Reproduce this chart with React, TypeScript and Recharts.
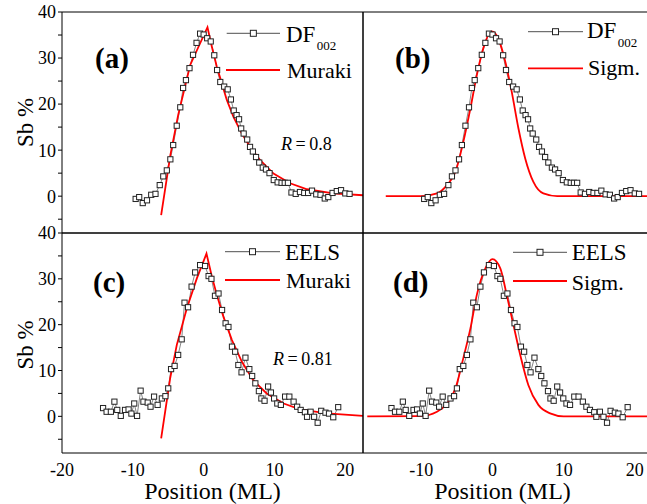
import React from "react";
import { ComposedChart, Line, XAxis, YAxis } from "recharts";

// measured data (same profiles shown twice: left with Muraki fit, right with sigmoidal fit)
const df002X = [-9.6, -9.1, -8.6, -8.0, -7.4, -6.8, -6.2, -5.7, -5.2, -4.7, -4.3, -3.8, -3.3, -2.9, -2.5, -2.0, -1.5, -1.0, -0.5, 0.0, 0.5, 1.0, 1.5, 1.9, 2.35, 2.9, 3.4, 3.85, 4.25, 4.65, 5.0, 5.3, 5.65, 6.15, 6.55, 6.95, 7.4, 7.85, 8.35, 8.8, 9.3, 9.9, 10.45, 11.0, 11.45, 11.9, 12.4, 13.0, 13.6, 14.2, 14.75, 15.3, 15.9, 16.5, 17.1, 17.6, 18.2, 18.8, 19.4, 20.0, 20.6];
const df002Y = [-0.6, -0.2, -1.5, -0.9, 0.3, 0.5, 2.4, 4.3, 5.6, 8.0, 11.1, 15.3, 19.3, 23.5, 25.2, 27.8, 30.7, 33.3, 35.3, 35.1, 34.3, 33.6, 30.6, 27.4, 24.8, 23.8, 23.2, 21.0, 18.6, 17.6, 16.7, 14.7, 13.6, 12.3, 10.7, 9.7, 8.5, 7.3, 6.2, 5.8, 5.0, 3.5, 3.0, 2.9, 2.9, 2.9, 0.8, 0.5, 0.9, 0.7, 0.7, 1.2, 0.4, 0.3, -0.5, -0.2, 0.7, 1.1, 1.3, 0.6, 0.5];

const eelsX = [-14.2, -13.7, -13.1, -12.6, -12.2, -11.7, -11.1, -10.6, -10.2, -9.8, -9.4, -8.9, -8.5, -7.9, -7.5, -7.0, -6.5, -5.9, -5.4, -5.0, -4.6, -4.1, -3.6, -3.1, -2.7, -2.2, -1.7, -1.2, -0.5, 0.2, 0.7, 1.1, 1.6, 2.1, 2.6, 3.1, 3.5, 4.0, 4.45, 4.9, 5.35, 5.9, 6.45, 6.85, 7.3, 7.8, 8.15, 8.6, 9.1, 9.5, 9.95, 10.4, 10.9, 11.5, 12.1, 12.7, 13.2, 13.7, 14.3, 14.6, 15.1, 15.6, 16.1, 16.6, 17.2, 17.7, 18.3, 19.0];
const eelsY = [1.8, 1.0, 1.0, 3.2, 1.4, 0.1, 1.4, 1.5, 0.6, 2.8, 0.1, 5.6, 3.2, 3.0, 2.1, 4.3, 2.5, 3.9, 4.4, 6.1, 10.3, 11.0, 13.4, 16.8, 24.8, 23.8, 28.3, 31.4, 33.0, 32.8, 30.6, 30.0, 26.3, 26.8, 23.2, 20.3, 19.5, 15.2, 14.1, 11.2, 9.6, 12.8, 10.3, 8.8, 7.2, 5.5, 3.9, 3.4, 6.5, 5.2, 3.9, 2.8, 2.5, 4.3, 4.3, 3.2, 2.1, 1.4, 0.9, -0.1, 1.0, -0.1, -1.4, 1.2, 0.8, 0.6, -0.2, 2.0];

// fitted curves
const murakiAX = [-6.0, -4.7, -3.6, -1.9, 0.54, 1.15, 1.86, 2.57, 3.27, 4.21, 5.39, 6.57, 7.98, 9.86, 12.2, 14.6, 18.3, 22.5];
const murakiAY = [-4.1, 8.9, 17.6, 28.5, 36.7, 32.5, 28.1, 24.5, 20.9, 17.2, 13.6, 10.7, 7.8, 4.9, 2.8, 1.5, 0.6, 0.2];
const murakiCX = [-6.0, -4.73, -3.79, -2.37, -0.96, 0.4, 1.16, 1.86, 2.8, 3.98, 5.4, 7.0, 8.9, 11.3, 13.6, 17.4, 22.5];
const murakiCY = [-4.8, 8.3, 15.6, 23.6, 30.1, 35.5, 30.5, 26.5, 21.7, 16.7, 11.9, 7.9, 5.0, 2.8, 1.5, 0.65, 0.1];
const sigmBX = [-15.0, -10.1, -7.8, -6.4, -5.2, -4.1, -3.1, -2.2, -1.3, -0.1, 0.8, 1.8, 2.7, 3.65, 4.6, 5.75, 7.15, 9.1, 22];
const sigmBY = [0, 0, 0.6, 2.4, 5.3, 11.8, 19.1, 26.3, 32.1, 35.8, 34.3, 29.2, 22.7, 14.7, 8.2, 3.1, 0.6, 0, 0];
const sigmDX = [-17.6, -10.1, -7.8, -6.4, -5.2, -4.1, -3.1, -2.2, -1.0, 0, 1.1, 2.0, 2.95, 3.9, 5.05, 6.45, 8.1, 10, 22];
const sigmDY = [0, 0.05, 1.0, 2.8, 6.1, 12.7, 19.2, 26.5, 32.3, 34.3, 32.3, 26.5, 19.9, 13.4, 6.8, 2.5, 0.65, 0, 0];

const leftTicks = [-20, -15, -10, -5, 0, 5, 10, 15, 20];
const leftLabels = [-20, -10, 0, 10, 20];
const rightTicks = [-15, -10, -5, 0, 5, 10, 15, 20];
const rightLabels = [-10, 0, 10, 20];
const yTicks = [-5, 0, 5, 10, 15, 20, 25, 30, 35, 40];

const zip = (xs: number[], ys: number[]) => xs.map((x, i) => ({ x, y: ys[i] }));

const FONT = "'Liberation Serif', 'DejaVu Serif', serif";
const BLACK = { stroke: "#000" };
const TICK = { fontSize: 18, fill: "#000", fontFamily: FONT };
const PAD = 14;

const Square = (p: any) => {
  if (p.cx == null || p.cy == null) return <g key={`s${p.index}`} />;
  return <rect key={`s${p.index}`} x={p.cx - 2.6} y={p.cy - 2.6} width={5.2} height={5.2} fill="#fff" stroke="#222" strokeWidth={1} />;
};

function Panel({ left, top, plotW, plotH, xDomain, xTicks, xLabels, showY, points, fit, fitType }: any) {
  const m = { top: PAD, right: 6, bottom: xLabels ? 0 : 6, left: showY ? 0 : 6 };
  const w = m.left + (showY ? 62 : 0) + plotW + m.right;
  const h = m.top + plotH + m.bottom + (xLabels ? 40 : 0);
  return (
    <div style={{ position: "absolute", left: left - (showY ? 62 : 6), top: top - PAD }}>
      <ComposedChart width={w} height={h} margin={m}>
        <XAxis xAxisId="b" dataKey="x" type="number" domain={xDomain} ticks={xTicks} interval={0}
          allowDataOverflow orientation="bottom" mirror tick={false} tickSize={3} tickLine={BLACK} axisLine={BLACK} />
        <XAxis xAxisId="t" dataKey="x" type="number" domain={xDomain} ticks={xTicks} interval={0}
          allowDataOverflow orientation="top" mirror tick={false} tickSize={3} tickLine={BLACK} axisLine={BLACK} />
        {xLabels && (
          <XAxis xAxisId="lbl" dataKey="x" type="number" domain={xDomain} ticks={xLabels} interval={0}
            allowDataOverflow orientation="bottom" height={40} axisLine={false} tickLine={false}
            tickSize={0} tickMargin={10} tick={TICK} />
        )}
        {showY ? (
          <YAxis yAxisId="l" type="number" domain={[-8, 40]} ticks={yTicks} interval={0} allowDataOverflow
            width={62} tickSize={4} tickMargin={2} tickLine={BLACK} axisLine={BLACK}
            tickFormatter={(v: number) => (v % 10 === 0 ? String(v) : "")} tick={TICK} />
        ) : (
          <YAxis yAxisId="l" type="number" domain={[-8, 40]} allowDataOverflow mirror
            tick={false} tickLine={false} axisLine={BLACK} />
        )}
        <YAxis yAxisId="r" type="number" domain={[-8, 40]} ticks={yTicks} interval={0} allowDataOverflow
          orientation="right" mirror tick={false} tickSize={3} tickLine={BLACK} axisLine={BLACK} />
        <Line xAxisId="b" yAxisId="l" data={points} dataKey="y" type="linear" stroke="#333" strokeWidth={0.6}
          dot={Square} activeDot={false} isAnimationActive={false} />
        <Line xAxisId="b" yAxisId="l" data={fit} dataKey="y" type={fitType} stroke="#ff0000" strokeWidth={1.8}
          dot={false} activeDot={false} isAnimationActive={false} />
      </ComposedChart>
    </div>
  );
}

function LegendRow({ x1, x2, y, red }: any) {
  return red ? (
    <line x1={x1} x2={x2} y1={y} y2={y} stroke="#ff0000" strokeWidth={1.8} />
  ) : (
    <g>
      <line x1={x1} x2={x2} y1={y} y2={y} stroke="#222" strokeWidth={0.8} />
      <rect x={(x1 + x2) / 2 - 3} y={y - 3} width={6} height={6} fill="#fff" stroke="#222" strokeWidth={1} />
    </g>
  );
}

export default function App() {
  const df002 = zip(df002X, df002Y);
  const eels = zip(eelsX, eelsY);
  return (
    <div style={{ position: "fixed", left: 0, top: 0, width: 647, height: 504, overflow: "hidden", background: "#fff", fontFamily: FONT }}>
      <Panel left={62} top={12} plotW={301} plotH={221} xDomain={[-20, 22.5]} xTicks={leftTicks} showY
        points={df002} fit={zip(murakiAX, murakiAY)} fitType="linear" />
      <Panel left={363} top={12} plotW={286} plotH={221} xDomain={[-18.2, 22]} xTicks={rightTicks}
        points={df002} fit={zip(sigmBX, sigmBY)} fitType="monotone" />
      <Panel left={62} top={233} plotW={301} plotH={220} xDomain={[-20, 22.5]} xTicks={leftTicks} xLabels={leftLabels} showY
        points={eels} fit={zip(murakiCX, murakiCY)} fitType="linear" />
      <Panel left={363} top={233} plotW={286} plotH={220} xDomain={[-18.2, 22]} xTicks={rightTicks} xLabels={rightLabels}
        points={eels} fit={zip(sigmDX, sigmDY)} fitType="monotone" />

      <svg width={647} height={504} style={{ position: "absolute", left: 0, top: 0, pointerEvents: "none", fontFamily: FONT }}>
        <text transform="translate(33,122.5) rotate(-90)" textAnchor="middle" fontSize={23}>Sb %</text>
        <text transform="translate(33,345) rotate(-90)" textAnchor="middle" fontSize={23}>Sb %</text>
        <text x={212.5} y={499} textAnchor="middle" fontSize={24}>Position (ML)</text>
        <text x={502.5} y={499} textAnchor="middle" fontSize={24}>Position (ML)</text>

        <text x={95} y={68} fontSize={29} fontWeight="bold">(a)</text>
        <text x={395} y={68} fontSize={29} fontWeight="bold">(b)</text>
        <text x={93} y={291.7} fontSize={29} fontWeight="bold">(c)</text>
        <text x={393} y={291.7} fontSize={29} fontWeight="bold">(d)</text>

        <LegendRow x1={226.7} x2={280} y={33.3} />
        <text x={286} y={41.7} fontSize={23}>DF</text>
        <text x={316.7} y={50} fontSize={13}>002</text>
        <LegendRow x1={226} x2={280} y={70} red />
        <text x={287} y={78} fontSize={22}>Muraki</text>
        <text x={281} y={150} fontSize={18}><tspan fontStyle="italic">R</tspan>{"\u2009=\u20090.8"}</text>

        <LegendRow x1={528} x2={583} y={31.7} />
        <text x={587} y={38.3} fontSize={23}>DF</text>
        <text x={617.7} y={46.7} fontSize={13}>002</text>
        <LegendRow x1={528} x2={583} y={68.3} red />
        <text x={588} y={75} fontSize={22}>Sigm.</text>

        <LegendRow x1={225} x2={280} y={251.7} />
        <text x={285} y={260} fontSize={23}>EELS</text>
        <LegendRow x1={225} x2={280} y={280} red />
        <text x={286} y={288.3} fontSize={22}>Muraki</text>
        <text x={273} y={365} fontSize={18}><tspan fontStyle="italic">R</tspan>{"\u2009=\u20090.81"}</text>

        <LegendRow x1={513} x2={567} y={252.3} />
        <text x={571.7} y={260} fontSize={23}>EELS</text>
        <LegendRow x1={513} x2={567} y={281} red />
        <text x={571.7} y={290} fontSize={22}>Sigm.</text>
      </svg>
    </div>
  );
}
